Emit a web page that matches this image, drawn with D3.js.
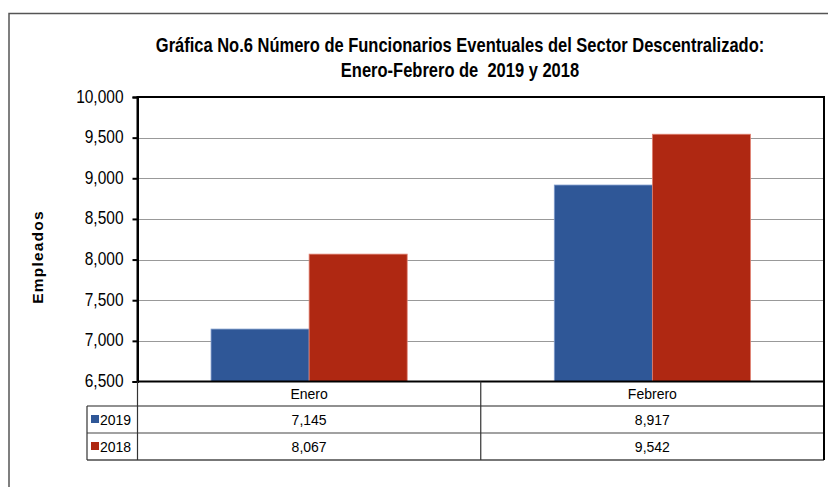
<!DOCTYPE html>
<html>
<head>
<meta charset="utf-8">
<script src="https://cdn.jsdelivr.net/npm/d3@7"></script>
<style>
  html, body { margin: 0; padding: 0; background: #fff; }
  svg { display: block; }
  text { font-family: "Liberation Sans", Arial, sans-serif; fill: #000; }
</style>
</head>
<body>
<svg id="chart" width="828" height="487"></svg>
<script>
const categories = ["Enero", "Febrero"];
const seriesNames = ["2019", "2018"];
const values2019 = [7145, 8917];
const values2018 = [8067, 9542];
const tickValues = [6500, 7000, 7500, 8000, 8500, 9000, 9500, 10000];
const titleLines = ["Gráfica No.6 Número de Funcionarios Eventuales del Sector Descentralizado:", "Enero-Febrero de  2019 y 2018"];
const yAxisTitle = "Empleados";
const colors = { "2019": "#2F5797", "2018": "#AF2812" };
const strokeColors = { "2019": "#7F9BCB", "2018": "#E08172" };

const seriesValues = { "2019": values2019, "2018": values2018 };

const svg = d3.select("#chart");
const W = 828, H = 487;
const plot = { left: 137.5, right: 824, top: 97, bottom: 381.5 };
const table = { legendLeft: 87, rows: [381.5, 406, 433, 460] };

// outer frame
svg.append("path")
  .attr("d", `M9,${H + 5} L9,13.5 L${W + 5},13.5`)
  .attr("fill", "none").attr("stroke", "#555").attr("stroke-width", 1.5);

// title
const titleG = svg.append("g");
titleLines.forEach((t, i) => {
  titleG.append("text")
    .attr("transform", `translate(460,${52 + i * 25}) scale(1,1.22)`)
    .attr("text-anchor", "middle")
    .style("font-family", "'Liberation Sans Narrow', 'Arial Narrow', 'Liberation Sans', Arial, sans-serif")
    .style("font-weight", "bold")
    .style("font-size", "16.5px")
    .style("white-space", "pre")
    .text(t);
});

// scales
const x0 = d3.scaleBand().domain(categories).range([plot.left, plot.right]).padding(0);
const x1 = d3.scaleBand().domain(seriesNames).range([0, x0.bandwidth()]).paddingInner(0).paddingOuter(0.75);
const y = d3.scaleLinear().domain([6500, 10000]).range([plot.bottom, plot.top]);

// gridlines
svg.append("g").selectAll("line")
  .data(tickValues.filter(v => v > 6500 && v < 10000))
  .join("line")
  .attr("x1", plot.left).attr("x2", plot.right)
  .attr("y1", d => Math.round(y(d)) + 0.5).attr("y2", d => Math.round(y(d)) + 0.5)
  .attr("stroke", "#333").attr("stroke-width", 1.2).attr("stroke-dasharray", "1,1");

// bars
const barData = [];
categories.forEach((c, ci) => {
  seriesNames.forEach(s => barData.push({ cat: c, s, v: seriesValues[s][ci] }));
});
svg.append("g").selectAll("rect")
  .data(barData)
  .join("rect")
  .attr("x", d => x0(d.cat) + x1(d.s))
  .attr("y", d => y(d.v))
  .attr("width", x1.bandwidth())
  .attr("height", d => y(6500) - y(d.v))
  .attr("fill", d => colors[d.s])
  .attr("stroke", d => strokeColors[d.s])
  .attr("stroke-width", 0.8);

// plot border
svg.append("rect")
  .attr("x", plot.left).attr("y", plot.top)
  .attr("width", plot.right - plot.left).attr("height", plot.bottom - plot.top)
  .attr("fill", "none").attr("stroke", "#000").attr("stroke-width", 2);

// y axis
const yAxis = d3.axisLeft(y).tickValues(tickValues).tickFormat(d3.format(",")).tickSize(5).tickPadding(9);
const yg = svg.append("g").attr("transform", `translate(${plot.left},0)`).call(yAxis);
yg.select(".domain").attr("stroke", "#000").attr("stroke-width", 2);
yg.selectAll(".tick line").attr("stroke", "#000").attr("stroke-width", 2);
yg.selectAll(".tick text")
  .attr("transform", "scale(1,1.15)")
  .attr("dy", "0.28em")
  .style("font-family", "'Liberation Sans', Arial, sans-serif")
  .style("font-size", "15.5px").attr("fill", "#000");

// y axis title
svg.append("text")
  .attr("transform", `translate(43,257) rotate(-90)`)
  .attr("text-anchor", "middle")
  .style("font-weight", "bold")
  .style("font-size", "15.5px")
  .style("letter-spacing", "1.2px")
  .text(yAxisTitle);

// data table
const tg = svg.append("g");
const rowsY = table.rows;
[
  { y: rowsY[1], x1: table.legendLeft, x2: plot.right, c: "#222", w: 1.2 },
  { y: rowsY[2], x1: table.legendLeft, x2: plot.right, c: "#444", w: 1.2 },
  { y: rowsY[3], x1: table.legendLeft, x2: plot.right, c: "#777", w: 2 }
].forEach(l => tg.append("line").attr("x1", l.x1).attr("x2", l.x2).attr("y1", l.y).attr("y2", l.y)
  .attr("stroke", l.c).attr("stroke-width", l.w));
tg.append("line").attr("x1", table.legendLeft).attr("x2", table.legendLeft).attr("y1", rowsY[1]).attr("y2", rowsY[3])
  .attr("stroke", "#333").attr("stroke-width", 1.2);
tg.append("line").attr("x1", plot.left).attr("x2", plot.left).attr("y1", rowsY[0]).attr("y2", rowsY[3])
  .attr("stroke", "#333").attr("stroke-width", 1.2);
categories.forEach((c, i) => {
  if (i > 0) {
    tg.append("line").attr("x1", x0(c)).attr("x2", x0(c)).attr("y1", rowsY[0]).attr("y2", rowsY[3])
      .attr("stroke", "#333").attr("stroke-width", 1.2);
  }
});
tg.append("line").attr("x1", plot.right).attr("x2", plot.right).attr("y1", rowsY[0]).attr("y2", rowsY[3])
  .attr("stroke", "#000").attr("stroke-width", 2);

categories.forEach(c => {
  tg.append("text")
    .attr("x", x0(c) + x0.bandwidth() / 2)
    .attr("y", (rowsY[0] + rowsY[1]) / 2 + 5)
    .attr("text-anchor", "middle")
    .style("font-size", "14px")
    .text(c);
});
seriesNames.forEach((s, si) => {
  const top = rowsY[si + 1], bot = rowsY[si + 2];
  const cy = (top + bot) / 2;
  tg.append("rect").attr("x", 91).attr("y", cy - 4.5).attr("width", 8).attr("height", 8)
    .attr("fill", colors[s]);
  tg.append("text").attr("x", 100).attr("y", cy + 5)
    .style("font-size", "14px").text(s);
  categories.forEach((c, ci) => {
    tg.append("text")
      .attr("x", x0(c) + x0.bandwidth() / 2)
      .attr("y", cy + 5)
      .attr("text-anchor", "middle")
      .style("font-size", "14px")
      .text(d3.format(",")(seriesValues[s][ci]));
  });
});
</script>
</body>
</html>
